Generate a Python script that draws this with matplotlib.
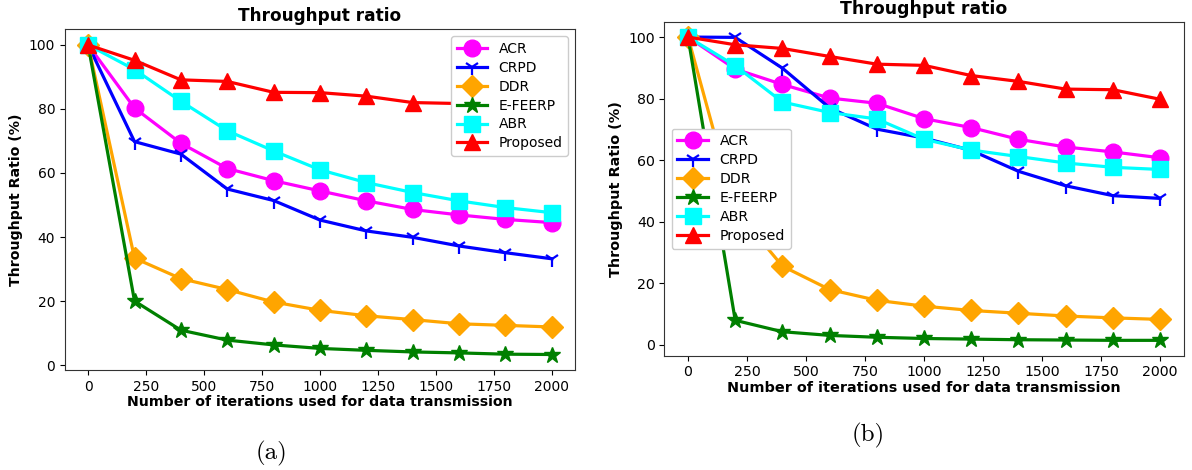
import numpy as np
import matplotlib.pyplot as plt

iters = [0, 200, 400, 600, 800, 1000, 1200, 1400, 1600, 1800, 2000]
names = ["ACR", "CRPD", "DDR", "E-FEERP", "ABR", "Proposed"]

# panel (a)
acr_a = [100, 80.3, 69.3, 61.4, 57.6, 54.4, 51.3, 48.6, 46.9, 45.5, 44.5]
crpd_a = [100, 69.8, 65.9, 55.0, 51.4, 45.3, 41.9, 39.9, 37.2, 35.1, 33.2]
ddr_a = [100, 33.4, 27.0, 23.6, 19.7, 17.1, 15.4, 14.2, 12.9, 12.4, 11.9]
efeerp_a = [100, 20.0, 10.9, 7.8, 6.3, 5.2, 4.6, 4.1, 3.8, 3.4, 3.3]
abr_a = [100, 92.3, 82.4, 73.2, 66.9, 61.0, 57.0, 53.9, 51.3, 49.2, 47.6]
prop_a = [100, 95.2, 89.1, 88.6, 85.2, 85.1, 84.0, 82.0, 81.7, 81.2, 80.6]

# panel (b)
acr_b = [100, 89.6, 84.6, 80.2, 78.5, 73.5, 70.6, 66.8, 64.3, 62.7, 60.8]
crpd_b = [100, 99.9, 89.9, 77.0, 70.1, 67.2, 63.2, 56.4, 51.7, 48.5, 47.6]
ddr_b = [100, 44.0, 25.6, 18.0, 14.5, 12.6, 11.2, 10.3, 9.4, 8.8, 8.3]
efeerp_b = [100, 8.0, 4.3, 3.1, 2.5, 2.1, 1.9, 1.7, 1.6, 1.5, 1.5]
abr_b = [100, 90.7, 78.9, 75.5, 73.4, 66.8, 63.3, 61.2, 59.1, 57.7, 57.0]
prop_b = [100, 97.5, 96.3, 93.7, 91.2, 90.8, 87.5, 85.6, 83.1, 82.9, 79.8]

styles = [("magenta", "o"), ("blue", "1"), ("orange", "D"),
          ("green", "*"), ("cyan", "s"), ("red", "^")]


def draw(ax, series, loc, k=1.0):
    for (c, m), name, y in zip(styles, names, series):
        ms = {"D": 11, "1": 11}.get(m, 12)
        mew = 1.6 if m == "1" else 1
        ax.plot(iters, y, color=c, marker=m, markersize=ms, markeredgewidth=mew,
                linewidth=2.3, label=name)
    ax.set_title("Throughput ratio", fontsize=12.2 * k, fontweight="bold", pad=6)
    ax.set_xlabel("Number of iterations used for data transmission",
                  fontsize=10.2 * k, fontweight="bold", labelpad=1)
    ax.set_ylabel("Throughput Ratio (%)", fontsize=10.2 * k, fontweight="bold")
    ax.set_xticks(range(0, 2001, 250))
    ax.set_yticks(range(0, 101, 20))
    ax.tick_params(labelsize=10 * k)
    for s in ax.spines.values():
        s.set_color("#333333")
    ax.legend(loc=loc, fontsize=10 * k, framealpha=1, labelspacing=0.35,
              handlelength=2.2)


fig = plt.figure(figsize=(11.92, 4.70), dpi=100)
ax1 = fig.add_axes([0.0545, 0.2128, 0.4279, 0.7245])
ax2 = fig.add_axes([0.5574, 0.2436, 0.4356, 0.7098])

draw(ax1, [acr_a, crpd_a, ddr_a, efeerp_a, abr_a, prop_a], "upper right")
draw(ax2, [acr_b, crpd_b, ddr_b, efeerp_b, abr_b, prop_b], "center left", 1.02)

fig.text(272 / 1192, 1 - 453 / 470, "(a)", family="cmr10", fontsize=18,
         ha="center", va="center")
fig.text(868 / 1192, 1 - 435 / 470, "(b)", family="cmr10", fontsize=18,
         ha="center", va="center")

fig.savefig("out.png", dpi=100)
